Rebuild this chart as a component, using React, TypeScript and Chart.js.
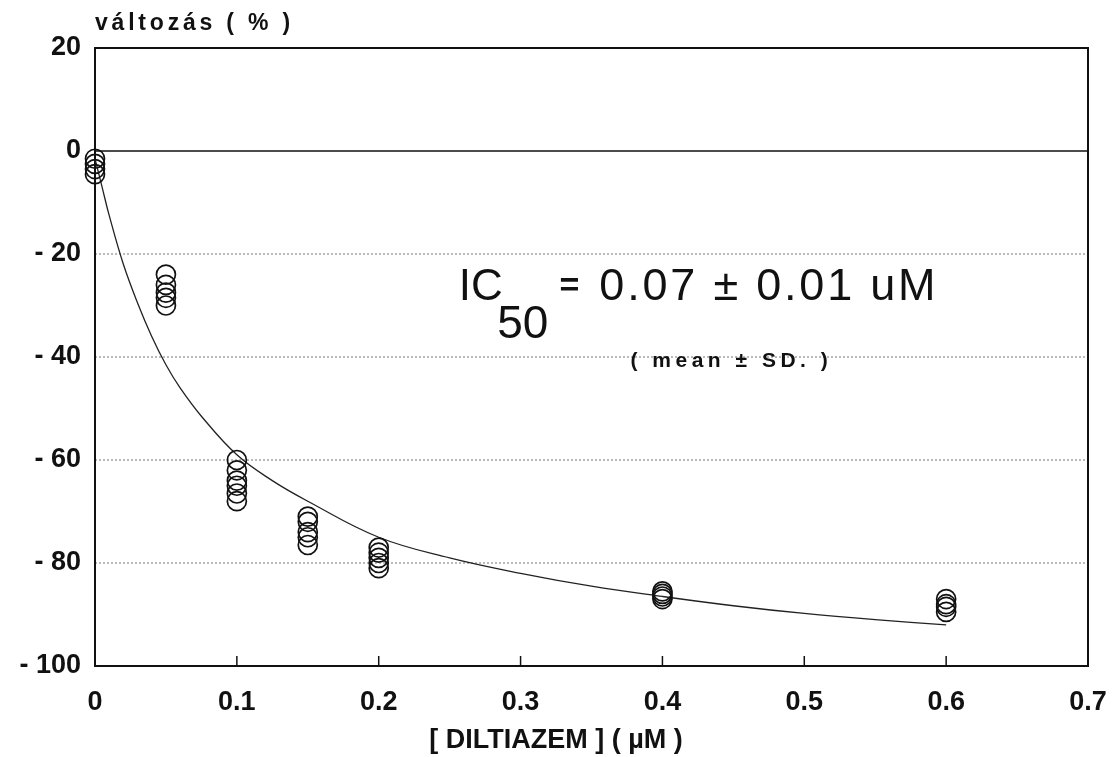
import React, { useEffect, useRef } from "react";
import { Chart, registerables } from "chart.js";

Chart.register(...registerables);

// ---- data ----
const concentrations = [0, 0.05, 0.1, 0.15, 0.2, 0.4, 0.6];
const responses0 = [-1.5, -2.5, -3.5, -4.5];
const responses005 = [-24, -26, -27.5, -28.5, -30];
const responses01 = [-60, -62, -64, -65, -66.5, -68];
const responses015 = [-71, -72, -74, -75, -76.5];
const responses02 = [-77, -78, -79, -80, -81];
const responses04 = [-85.5, -86, -86.5, -87];
const responses06 = [-87, -88, -88.5, -89.5];
const responseGroups = [responses0, responses005, responses01, responses015, responses02, responses04, responses06];

const fitX = [0, 0.005, 0.01, 0.02, 0.03, 0.04, 0.05, 0.06, 0.075, 0.1, 0.125, 0.15, 0.2, 0.25, 0.3, 0.35, 0.4, 0.45, 0.5, 0.55, 0.6];
const fitY = [-1.5, -7, -12.5, -22, -29.5, -36, -41.5, -46, -51.5, -59, -64, -68, -75, -79, -82, -84.5, -86.5, -88.3, -89.8, -91, -92];

const xTickValues = [0, 0.1, 0.2, 0.3, 0.4, 0.5, 0.6, 0.7];
const xTickLabels = ["0", "0.1", "0.2", "0.3", "0.4", "0.5", "0.6", "0.7"];
const yTickValues = [-100, -80, -60, -40, -20, 0, 20];
const yTickLabels = ["- 100", "- 80", "- 60", "- 40", "- 20", "0", "20"];
const innerXTicks = [0.1, 0.2, 0.3, 0.4, 0.5, 0.6];

const yTitle = "változás ( % )";
const xTitle = "[ DILTIAZEM ] ( µM )";
const icLabel = "IC";
const icSub = "50";
const icEq = "=";
const icValue = "0.07 ± 0.01 uM";
const icNote = "( mean ± SD. )";

const FONT = "'Liberation Sans', Arial, sans-serif";

const decorPlugin = {
  id: "decor",
  beforeDatasetsDraw(chart: any) {
    const { ctx, chartArea, scales } = chart;
    const y = scales.y;
    const x = scales.x;
    ctx.save();
    yTickValues.forEach((v) => {
      if (v === 20 || v === -100) return;
      const py = y.getPixelForValue(v);
      ctx.beginPath();
      if (v === 0) {
        ctx.setLineDash([]);
        ctx.strokeStyle = "#111";
        ctx.lineWidth = 1.5;
      } else {
        ctx.setLineDash([2, 2]);
        ctx.strokeStyle = "#777";
        ctx.lineWidth = 1;
      }
      ctx.moveTo(chartArea.left, py);
      ctx.lineTo(chartArea.right, py);
      ctx.stroke();
    });
    ctx.setLineDash([]);
    ctx.strokeStyle = "#111";
    ctx.lineWidth = 2;
    ctx.strokeRect(chartArea.left, chartArea.top, chartArea.right - chartArea.left, chartArea.bottom - chartArea.top);
    ctx.lineWidth = 1.5;
    innerXTicks.forEach((v) => {
      const px = x.getPixelForValue(v);
      ctx.beginPath();
      ctx.moveTo(px, chartArea.bottom);
      ctx.lineTo(px, chartArea.bottom - 10);
      ctx.stroke();
    });
    ctx.restore();
  },
  afterDraw(chart: any) {
    const { ctx, chartArea, scales } = chart;
    const x = scales.x;
    const y = scales.y;
    ctx.save();
    ctx.fillStyle = "#111";
    ctx.textBaseline = "alphabetic";
    ctx.textAlign = "left";
    ctx.font = `bold 23px ${FONT}`;
    (ctx as any).letterSpacing = "3.8px";
    ctx.fillText(yTitle, chartArea.left, 30);
    ctx.textAlign = "center";
    ctx.font = `bold 27px ${FONT}`;
    (ctx as any).letterSpacing = "0px";
    ctx.fillText(xTitle, x.getPixelForValue(0.325), 748);
    ctx.textAlign = "left";
    const baseY = y.getPixelForValue(-29);
    ctx.font = `44px ${FONT}`;
    ctx.fillText(icLabel, x.getPixelForValue(0.2565), baseY);
    ctx.font = `46px ${FONT}`;
    ctx.fillText(icSub, x.getPixelForValue(0.2835), baseY + 38);
    ctx.font = `bold 34px ${FONT}`;
    ctx.fillText(icEq, x.getPixelForValue(0.3275), baseY - 4);
    ctx.font = `45px ${FONT}`;
    (ctx as any).letterSpacing = "2.8px";
    ctx.fillText(icValue, x.getPixelForValue(0.3555), baseY);
    ctx.font = `bold 21px ${FONT}`;
    (ctx as any).letterSpacing = "4.5px";
    ctx.fillText(icNote, x.getPixelForValue(0.3775), y.getPixelForValue(-42));
    ctx.restore();
  },
};

export default function App() {
  const canvasRef = useRef<HTMLCanvasElement | null>(null);

  useEffect(() => {
    document.body.style.margin = "0";
    document.body.style.background = "#fff";
    const canvas = canvasRef.current;
    if (!canvas) return;

    const scatterData: { x: number; y: number }[] = [];
    concentrations.forEach((c, i) => {
      responseGroups[i].forEach((v) => scatterData.push({ x: c, y: v }));
    });
    const fitData = fitX.map((v, i) => ({ x: v, y: fitY[i] }));

    const chart = new Chart(canvas, {
      type: "scatter",
      data: {
        datasets: [
          {
            type: "line",
            label: "fit",
            data: fitData,
            borderColor: "#222",
            borderWidth: 1.3,
            pointRadius: 0,
            fill: false,
            tension: 0.4,
            order: 2,
          } as any,
          {
            type: "scatter",
            label: "measured",
            data: scatterData,
            pointStyle: "circle",
            pointRadius: 9.5,
            pointBorderWidth: 1.7,
            borderColor: "#111",
            backgroundColor: "rgba(255,255,255,0)",
            clip: false,
            order: 1,
          } as any,
        ],
      },
      options: {
        responsive: false,
        animation: false,
        layout: { padding: { top: 48, right: 25, left: 0, bottom: 0 } },
        plugins: {
          legend: { display: false },
          tooltip: { enabled: false },
          title: { display: false },
        },
        scales: {
          x: {
            type: "linear",
            min: 0,
            max: 0.7,
            afterBuildTicks: (scale: any) => {
              scale.ticks = xTickValues.map((v) => ({ value: v }));
            },
            afterFit: (scale: any) => {
              scale.height = 91;
              scale.paddingLeft = 0;
              scale.paddingRight = 0;
            },
            grid: { display: false, drawTicks: false },
            border: { display: false },
            ticks: {
              padding: 20,
              color: "#111",
              font: { family: FONT, size: 27, weight: "bold" },
              maxRotation: 0,
              autoSkip: false,
              callback: (_v: any, i: number) => xTickLabels[i],
            },
          },
          y: {
            type: "linear",
            min: -100,
            max: 20,
            afterBuildTicks: (scale: any) => {
              scale.ticks = yTickValues.map((v) => ({ value: v }));
            },
            afterFit: (scale: any) => {
              scale.width = 95;
              scale.paddingTop = 0;
              scale.paddingBottom = 0;
            },
            grid: { display: false, drawTicks: false },
            border: { display: false },
            ticks: {
              padding: 14,
              color: "#111",
              font: { family: FONT, size: 27, weight: "bold" },
              autoSkip: false,
              callback: (_v: any, i: number) => yTickLabels[i],
            },
          },
        },
      } as any,
      plugins: [decorPlugin],
    });

    return () => chart.destroy();
  }, []);

  return (
    <div style={{ position: "absolute", left: 0, top: 0, width: 1113, height: 757, background: "#fff" }}>
      <canvas ref={canvasRef} width={1113} height={757} style={{ display: "block" }} />
    </div>
  );
}
